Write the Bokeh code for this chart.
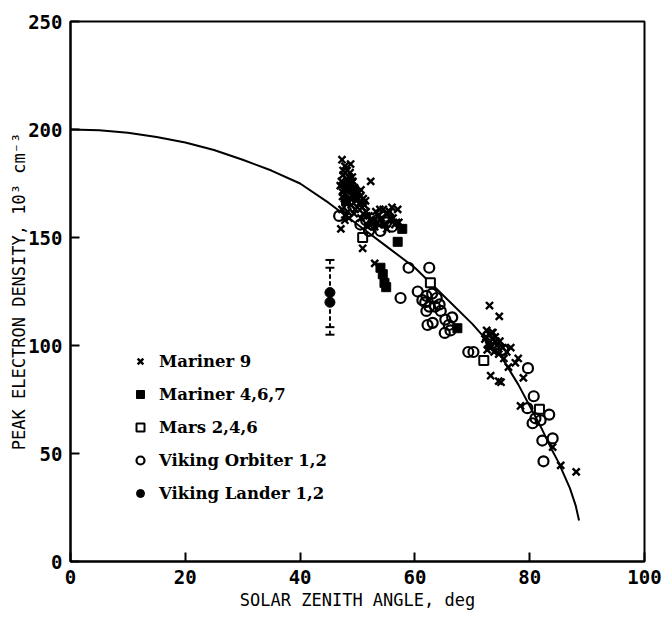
from bokeh.plotting import figure
from bokeh.models import ColumnDataSource, Legend, LegendItem, Whisker, TeeHead, FixedTicker
from bokeh.embed import file_html
from bokeh.resources import INLINE

# Model curve of peak electron density vs solar zenith angle
curve_sza = [0, 5, 10, 15, 20, 25, 30, 35, 40, 45, 50, 55, 60, 65, 70, 72, 75, 78, 80, 82, 84, 85, 86, 87, 88, 88.6]
curve_ne = [200, 199.6, 198.5, 196.5, 194, 190.5, 186, 181, 175, 166, 156, 146, 136, 123, 110, 104, 95, 82, 72, 62, 51, 46, 40, 34, 26, 19]

# Mariner 9 (x)
m9_sza = [47.3, 47.8, 48.2, 47.5, 48.6, 47.2, 48.0, 49.0, 47.6, 48.4, 49.3, 50.2, 51.0, 47.4, 48.8,
          49.8, 50.6, 52.3, 47.9, 48.9, 50.0, 47.3, 48.3, 49.4, 47.8, 47.1, 48.5, 51.2, 49.2, 48.8,
          47.0, 47.7, 48.1, 49.6, 50.4, 47.5, 48.7, 49.9, 50.8, 48.0, 47.4, 49.1,
          49.5, 50.1, 48.3, 49.0, 50.5, 51.4, 47.9, 48.6, 49.7, 50.9,
          50.9, 53.0, 52.0, 53.2, 54.5, 55.3, 56.0, 57.0, 54.0, 55.8, 52.8, 56.5, 51.5,
          50.6, 51.8, 53.6, 54.8, 55.6, 56.8, 53.9, 52.5, 55.1,
          51.0, 52.2, 53.0, 54.2, 55.0, 56.2, 54.6, 53.4, 51.6, 57.2,
          73.0, 74.7, 72.5, 73.0, 73.5, 72.8, 74.0, 74.3, 73.2, 73.8, 72.6, 74.8, 75.3, 74.6, 76.0,
          76.7, 75.5, 77.5, 78.0, 73.2, 74.6, 76.3, 78.9, 78.4, 75.0, 84.0, 85.4, 88.1, 72.2, 73.6,
          72.9, 73.4, 74.1, 72.4]
m9_ne = [186, 183, 181, 179, 178, 176, 175, 174, 172, 171, 170, 171, 168, 169, 168,
         167, 172, 176, 166, 165, 164, 163, 162, 161, 158, 154, 159, 165, 176, 184,
         174, 168, 177, 163, 166, 181, 180, 170, 164, 160, 171, 178,
         173, 168, 166, 172, 169, 167, 173, 175, 171, 166,
         145, 138, 160, 162, 163, 161, 164, 163, 158, 159, 157, 156, 162,
         159, 155, 160, 156, 162, 157, 163, 158, 154,
         161, 158, 155, 159, 161, 159, 156, 157, 160, 157,
         118.5, 113.5, 107, 105, 103, 101, 104, 100, 99, 97, 98, 102, 99, 96, 97,
         99, 94, 92, 94, 86, 83.5, 90, 85, 72, 83, 53, 44.5, 41.5, 103, 106,
         100, 106, 102, 104]

# Mariner 4,6,7 (filled squares)
m467_sza = [57.8, 57.0, 54.0, 54.4, 54.7, 55.0, 67.4, 48.4, 49.5, 48.0, 49.2]
m467_ne = [154, 148, 136, 133, 129, 127, 108, 173, 169, 167, 172]

# Mars 2,4,6 (open squares)
mars_sza = [50.9, 62.7, 72.0, 81.7]
mars_ne = [150, 129, 93, 70.5]

# Viking Orbiter 1,2 (open circles)
vo_sza = [51.5, 52.5, 53.5, 55.0, 56.0, 54.0, 52.0, 50.5, 46.8,
          58.9, 62.5, 57.5, 60.5, 61.3, 62.0, 63.0, 63.8, 64.3, 62.5, 63.5, 64.5, 62.0, 61.8,
          62.2, 63.1, 65.3, 66.5, 65.9, 65.2, 66.2, 69.3, 70.2, 75.4,
          79.7, 80.7, 79.6, 83.4, 80.5, 81.0, 81.9, 82.2, 84.0, 82.4]
vo_ne = [158, 156, 158, 157, 155, 153, 153, 156, 160,
         136, 136, 122, 125, 121, 123, 124, 122, 119, 118, 118, 116, 116, 120,
         109.5, 110.5, 112, 113, 109.5, 105.8, 107, 97, 97, 98,
         89.5, 76.5, 71, 68, 64, 66.3, 65.4, 56, 57, 46.4]

# Viking Lander 1,2 (filled circles with error bars)
vl_sza = [45.2, 45.2]
vl_ne = [124.5, 120]
vl_upper = [139.6, 136]
vl_lower = [108.5, 105]

p = figure(width=670, height=618, x_range=(0, 100), y_range=(0, 250),
           output_backend="svg", toolbar_location=None,
           min_border_left=70, min_border_right=26, min_border_top=21, min_border_bottom=57)

p.outline_line_color = "black"
p.outline_line_width = 2
p.xgrid.visible = False
p.ygrid.visible = False
p.background_fill_color = "white"
p.border_fill_color = "white"

for ax in (p.xaxis[0], p.yaxis[0]):
    ax.axis_line_width = 2
    ax.axis_line_color = "black"
    ax.major_tick_in = 9
    ax.major_tick_out = 0
    ax.major_tick_line_width = 2
    ax.major_tick_line_color = "black"
    ax.minor_tick_line_color = None
    ax.major_label_text_font = "DejaVu Sans Mono"
    ax.major_label_text_font_style = "bold"
    ax.major_label_text_font_size = "19px"
    ax.major_label_text_color = "black"
    ax.axis_label_text_font = "DejaVu Sans Mono"
    ax.axis_label_text_font_style = "normal"
    ax.axis_label_text_font_size = "17px"
    ax.axis_label_text_color = "black"

p.xaxis[0].ticker = FixedTicker(ticks=[0, 20, 40, 60, 80, 100])
p.yaxis[0].ticker = FixedTicker(ticks=[0, 50, 100, 150, 200, 250])
p.xaxis[0].major_label_standoff = 8
p.yaxis[0].major_label_standoff = 8
p.xaxis[0].axis_label = "SOLAR ZENITH ANGLE, deg"
p.yaxis[0].axis_label = "PEAK ELECTRON DENSITY, 10³ cm⁻³"
p.xaxis[0].axis_label_standoff = 3
p.yaxis[0].axis_label_standoff = -4

p.line(curve_sza, curve_ne, line_color="black", line_width=2)

r_m9 = p.scatter(m9_sza, m9_ne, marker="x", size=10, line_color="black", line_width=2.4)
r_m467 = p.scatter(m467_sza, m467_ne, marker="square", size=9, fill_color="black", line_color="black")
r_mars = p.scatter(mars_sza, mars_ne, marker="square", size=9, fill_color="white", line_color="black", line_width=2)
r_vo = p.scatter(vo_sza, vo_ne, marker="circle", size=10, fill_color="white", fill_alpha=0.0,
                 line_color="black", line_width=2.2)

vl_src = ColumnDataSource(dict(x=vl_sza, y=vl_ne, upper=vl_upper, lower=vl_lower))
p.add_layout(Whisker(source=vl_src, base="x", upper="upper", lower="lower", dimension="height",
                     line_color="black", line_width=1.8, line_dash="4 3",
                     upper_head=TeeHead(size=9, line_width=2),
                     lower_head=TeeHead(size=9, line_width=2)))
r_vl = p.scatter("x", "y", source=vl_src, marker="circle", size=10, fill_color="black", line_color="black")

legend = Legend(items=[
    LegendItem(label="Mariner 9", renderers=[r_m9]),
    LegendItem(label="Mariner 4,6,7", renderers=[r_m467]),
    LegendItem(label="Mars 2,4,6", renderers=[r_mars]),
    LegendItem(label="Viking Orbiter 1,2", renderers=[r_vo]),
    LegendItem(label="Viking Lander 1,2", renderers=[r_vl]),
], location=(60, 58))
legend.border_line_color = None
legend.background_fill_alpha = 0
legend.padding = 0
legend.margin = 0
legend.spacing = 13
legend.glyph_width = 20
legend.glyph_height = 20
legend.label_height = 20
legend.label_standoff = 9
legend.label_text_font = "DejaVu Serif"
legend.label_text_font_style = "bold"
legend.label_text_font_size = "16.5px"
legend.label_text_color = "black"
p.add_layout(legend)

open("out.html", "w").write(file_html(p, INLINE))
